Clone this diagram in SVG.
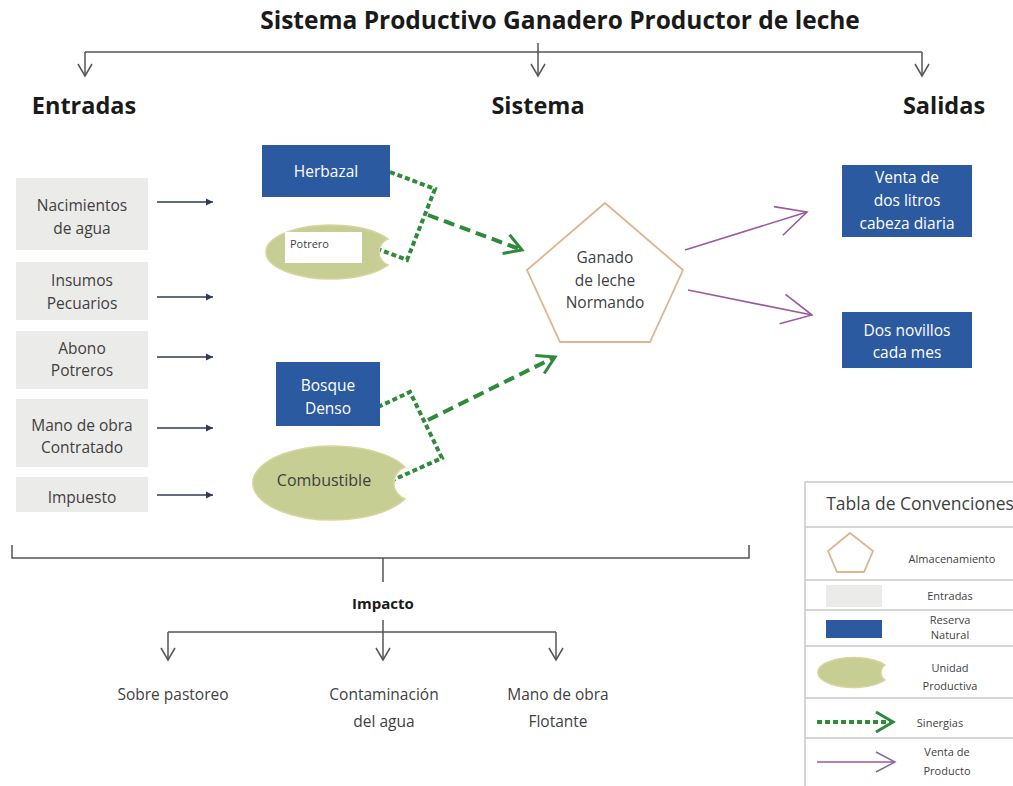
<svg xmlns="http://www.w3.org/2000/svg" width="1013" height="786" viewBox="0 0 1013 786">
<style>
text{font-family:"Open Sans","Liberation Sans",sans-serif;fill:#3f3f3f;text-anchor:middle}
.h{font-weight:bold;fill:#1a1a1a}
.t{font-size:15.5px}
.w{fill:#ffffff;font-size:15.5px}
.s{font-size:11px}
.in{fill:#ebebe9}
.rn{fill:#2c5aa0}
.up{fill:#c6ce93;stroke:#d8d59c;stroke-width:1.5}
.gc{fill:none;stroke:#555;stroke-width:1.5}
.nav{stroke:#2e3a58;stroke-width:1.6}
.dot{fill:none;stroke:#2f8a3c;stroke-width:4;stroke-dasharray:5 3}
.dash{fill:none;stroke:#2f8a3c;stroke-width:4;stroke-dasharray:11 6}
.pur{fill:none;stroke:#9a5a9e;stroke-width:1.6}
.lg{stroke:#c9c9c9;stroke-width:1.5;fill:none}
.pent{fill:#ffffff;stroke:#dfb48e;stroke-width:1.8}
</style>
<defs>
<marker id="open" markerUnits="userSpaceOnUse" viewBox="-14 -10 16 20" markerWidth="16" markerHeight="20" refX="0" refY="0" orient="auto" overflow="visible">
<path d="M-12,-7 L0,0 L-12,7" fill="none" stroke="#555" stroke-width="1.5"/>
</marker>
<marker id="nav" markerUnits="userSpaceOnUse" viewBox="-8 -4 9 8" markerWidth="9" markerHeight="8" refX="0" refY="0" orient="auto" overflow="visible">
<path d="M0,0 L-7,-3.5 L-7,3.5 z" fill="#2e3a58"/>
</marker>
<marker id="garrow" markerUnits="userSpaceOnUse" viewBox="-20 -12 22 24" markerWidth="22" markerHeight="24" refX="0" refY="0" orient="auto" overflow="visible">
<path d="M-17,-10 L0,0 L-17,10" fill="none" stroke="#2f8a3c" stroke-width="3" stroke-dasharray="none"/>
</marker>
<marker id="parrow" markerUnits="userSpaceOnUse" viewBox="-34 -16 36 32" markerWidth="36" markerHeight="32" refX="0" refY="0" orient="auto" overflow="visible">
<path d="M-30,-15 L0,0 L-30,15" fill="none" stroke="#9a5a9e" stroke-width="1.6"/>
</marker>
<marker id="parrows" markerUnits="userSpaceOnUse" viewBox="-22 -12 24 24" markerWidth="24" markerHeight="24" refX="0" refY="0" orient="auto" overflow="visible">
<path d="M-19,-10 L0,0 L-19,10" fill="none" stroke="#8a6a98" stroke-width="1.5"/>
</marker>
</defs>
<rect width="1013" height="786" fill="#ffffff"/>

<text id="title" class="h" x="560" y="29" font-size="24.5">Sistema Productivo Ganadero Productor de leche</text>
<text class="h" x="84" y="114" font-size="23.5">Entradas</text>
<text class="h" x="538" y="114" font-size="23.5">Sistema</text>
<text class="h" x="944" y="114" font-size="23.5">Salidas</text>

<g id="connectors">
<path class="gc" d="M85,52 H922"/>
<path class="gc" d="M85,52 V76" marker-end="url(#open)"/>
<path class="gc" d="M538,43 V76" marker-end="url(#open)"/>
<path class="gc" d="M922,52 V76" marker-end="url(#open)"/>

<path class="nav" d="M157,202 H213" marker-end="url(#nav)"/>
<path class="nav" d="M157,297 H213" marker-end="url(#nav)"/>
<path class="nav" d="M157,357 H213" marker-end="url(#nav)"/>
<path class="nav" d="M157,428 H213" marker-end="url(#nav)"/>
<path class="nav" d="M157,495 H213" marker-end="url(#nav)"/>

<path class="dot" d="M390,172 L435,189 L407,260 L375,248"/>
<path class="dash" d="M428,215 L522,250" marker-end="url(#garrow)"/>
<path class="dot" d="M378,407 L410,392 L442,458 L393,480"/>
<path class="dash" d="M428,420 L555,357" marker-end="url(#garrow)"/>

<path class="pur" d="M685,250 L807,212" marker-end="url(#parrow)"/>
<path class="pur" d="M688,290 L812,315" marker-end="url(#parrow)"/>

<path class="gc" d="M12,545 V558 H749 V545"/>
<path class="gc" d="M383,558 V582"/>
<path class="gc" d="M168,632 H556"/>
<path class="gc" d="M383,620 V660" marker-end="url(#open)"/>
<path class="gc" d="M168,632 V660" marker-end="url(#open)"/>
<path class="gc" d="M556,632 V660" marker-end="url(#open)"/>
</g>

<g id="in1"><rect class="in" x="16" y="178" width="132" height="72"/><text class="t" x="82" y="211">Nacimientos</text><text class="t" x="82" y="234">de agua</text></g>
<g id="in2"><rect class="in" x="16" y="262" width="132" height="58"/><text class="t" x="82" y="286">Insumos</text><text class="t" x="82" y="309">Pecuarios</text></g>
<g id="in3"><rect class="in" x="16" y="331" width="132" height="58"/><text class="t" x="82" y="354">Abono</text><text class="t" x="82" y="376">Potreros</text></g>
<g id="in4"><rect class="in" x="16" y="399" width="132" height="68"/><text class="t" x="82" y="431">Mano de obra</text><text class="t" x="82" y="453">Contratado</text></g>
<g id="in5"><rect class="in" x="16" y="477" width="132" height="35"/><text class="t" x="82" y="503">Impuesto</text></g>

<g id="herbazal"><rect class="rn" x="262" y="145" width="128" height="52"/><text class="w" x="326" y="177">Herbazal</text></g>
<g id="potrero"><path class="up" d="M388,239 A65 27 0 1 0 388,265 A14 14 0 0 1 388,239 z"/><rect x="285" y="232" width="77" height="31" fill="#ffffff"/><text x="290" y="248" font-size="11" style="text-anchor:start">Potrero</text></g>
<g id="bosque"><rect class="rn" x="276" y="362" width="104" height="64"/><text class="w" x="328" y="391">Bosque</text><text class="w" x="328" y="414">Denso</text></g>
<g id="combustible"><path class="up" d="M405,467 A80 37 0 1 0 405,499 A17 17 0 0 1 405,467 z"/><text x="324" y="486" font-size="16" fill="#333">Combustible</text></g>

<g id="ganado"><polygon class="pent" points="605,203 683,270 650,342 560,342 527,270"/><text class="t" x="605" y="263">Ganado</text><text class="t" x="605" y="286">de leche</text><text class="t" x="605" y="308">Normando</text></g>

<g id="venta"><rect class="rn" x="842" y="165" width="130" height="72"/><text class="w" x="907" y="183">Venta de</text><text class="w" x="907" y="206">dos litros</text><text class="w" x="907" y="229">cabeza diaria</text></g>
<g id="novillos"><rect class="rn" x="842" y="312" width="130" height="56"/><text class="w" x="907" y="336">Dos novillos</text><text class="w" x="907" y="358">cada mes</text></g>

<g id="impacto">
<text class="h" x="383" y="609" font-size="15">Impacto</text>
<text class="t" x="173" y="700">Sobre pastoreo</text>
<text class="t" x="384" y="700">Contaminación</text><text class="t" x="384" y="727">del agua</text>
<text class="t" x="558" y="700">Mano de obra</text><text class="t" x="558" y="727">Flotante</text>
</g>

<g id="legend">
<path class="lg" d="M805,786 V482 H1013 M805,527 H1013 M805,580 H1013 M805,610 H1013 M805,646 H1013 M805,698 H1013 M805,738 H1013"/>
<text x="920" y="510" font-size="17.5" fill="#333">Tabla de Convenciones</text>
<polygon class="pent" points="850,533 873,551 864,572 837,572 828,551"/>
<text class="s" x="952" y="563">Almacenamiento</text>
<rect class="in" x="826" y="585" width="56" height="22"/>
<text class="s" x="950" y="600">Entradas</text>
<rect class="rn" x="826" y="620" width="56" height="18"/>
<text class="s" x="950" y="624">Reserva</text><text class="s" x="950" y="639">Natural</text>
<path class="up" d="M885,665 A36 15 0 1 0 885,680 A9 9 0 0 1 885,665 z"/>
<text class="s" x="950" y="672">Unidad</text><text class="s" x="950" y="690">Productiva</text>
<path class="dot" d="M817,722 H893" stroke-width="3" stroke-dasharray="4 2.5" marker-end="url(#garrow)"/>
<text class="s" x="940" y="727">Sinergias</text>
<path class="pur" d="M817,762 H895" stroke="#8a6a98" marker-end="url(#parrows)"/>
<text class="s" x="947" y="756">Venta de</text><text class="s" x="947" y="775">Producto</text>
</g>
</svg>
